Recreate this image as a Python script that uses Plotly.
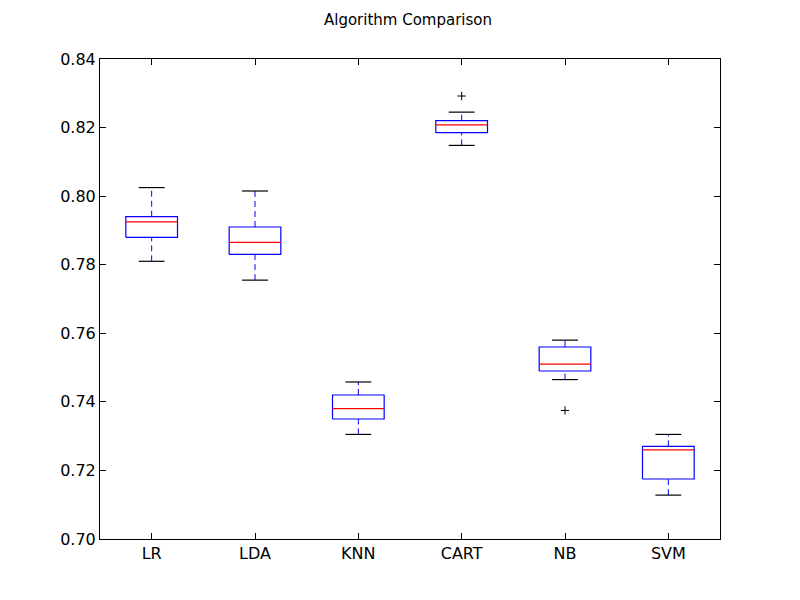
import plotly.graph_objects as go

names = ["LR", "LDA", "KNN", "CART", "NB", "SVM"]
low = [0.781, 0.7755, 0.7305, 0.8148, 0.7465, 0.7128]
q1 = [0.788, 0.783, 0.735, 0.8185, 0.749, 0.7175]
med = [0.7925, 0.7865, 0.738, 0.8208, 0.751, 0.726]
q3 = [0.794, 0.791, 0.742, 0.822, 0.756, 0.727]
high = [0.8025, 0.8015, 0.7458, 0.8245, 0.758, 0.7305]
out_x = ["CART", "NB"]
out_y = [0.8292, 0.7375]

bw, cw = 0.25, 0.125
bx, by, wx, wy, cx, cy, mx, my = [], [], [], [], [], [], [], []
for i in range(len(names)):
    p = i + 1
    bx += [p - bw, p + bw, p + bw, p - bw, p - bw, None]
    by += [q1[i], q1[i], q3[i], q3[i], q1[i], None]
    wx += [p, p, None, p, p, None]
    wy += [low[i], q1[i], None, q3[i], high[i], None]
    cx += [p - cw, p + cw, None, p - cw, p + cw, None]
    cy += [low[i], low[i], None, high[i], high[i], None]
    mx += [p - bw, p + bw, None]
    my += [med[i], med[i], None]

fig = go.Figure()
fig.add_trace(go.Scatter(x=wx, y=wy, mode="lines", line=dict(color="blue", width=1, dash="6px,4px")))
fig.add_trace(go.Scatter(x=bx, y=by, mode="lines", line=dict(color="blue", width=1.2)))
fig.add_trace(go.Scatter(x=cx, y=cy, mode="lines", line=dict(color="black", width=1.2)))
fig.add_trace(go.Scatter(x=mx, y=my, mode="lines", line=dict(color="red", width=1.2)))
fig.add_trace(go.Scatter(x=[names.index(n) + 1 for n in out_x], y=out_y, mode="markers",
                         marker=dict(symbol="cross-thin", size=6, line=dict(color="black", width=1))))

fig.update_layout(
    width=800, height=600, showlegend=False,
    paper_bgcolor="white", plot_bgcolor="white",
    margin=dict(l=92, r=88, t=51, b=69),
    font=dict(family="DejaVu Sans", size=16, color="black"),
    title=dict(text="Algorithm Comparison", x=0.5, xanchor="center", y=0.98, yanchor="middle", font=dict(size=15)),
)
fig.update_xaxes(range=[0.5, 6.5], tickvals=list(range(1, 7)), ticktext=names,
                 showgrid=False, zeroline=False, showline=True, linecolor="black", mirror="ticks",
                 ticks="inside", ticklen=6, tickcolor="black")
fig.update_yaxes(range=[0.70, 0.84], dtick=0.02, tickformat=".2f",
                 showgrid=False, zeroline=False, showline=True, linecolor="black", mirror="ticks",
                 ticks="inside", ticklen=6, tickcolor="black")
fig.write_html("out.html")
